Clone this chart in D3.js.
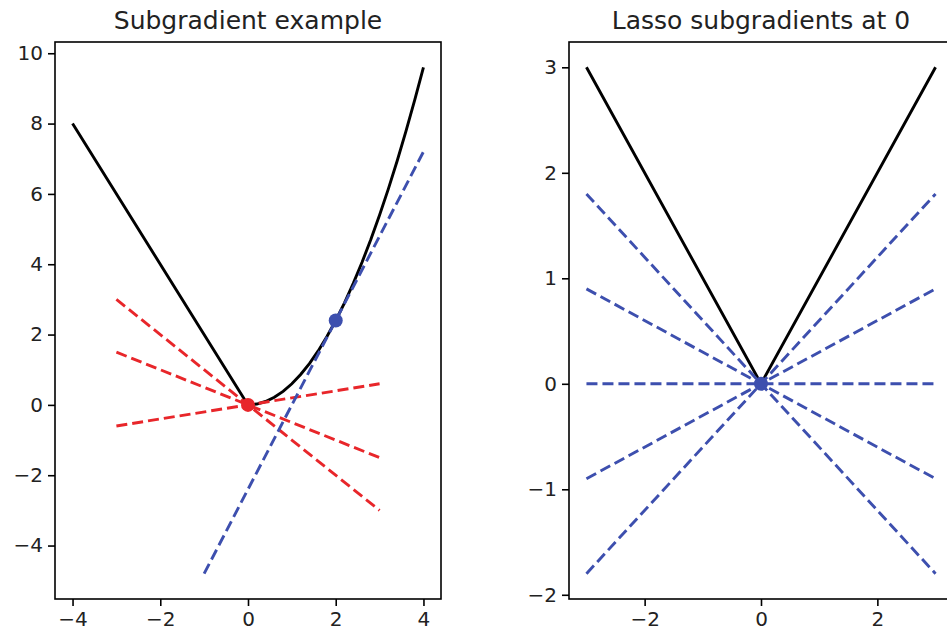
<!DOCTYPE html>
<html>
<head>
<meta charset="utf-8">
<script src="https://cdn.jsdelivr.net/npm/d3@7"></script>
<style>
  html, body { margin: 0; padding: 0; background: #fff; overflow: hidden; }
  svg { display: block; }
  text { font-family: "DejaVu Sans", sans-serif; fill: #222; }
</style>
</head>
<body>
<svg id="chart" width="947" height="633"></svg>
<script>
// ---- Left panel: piecewise function f(x) = -2x (x<0), 0.6x^2 (x>=0)
const curveX = [-4, 0, 0.2, 0.4, 0.6, 0.8, 1.0, 1.2, 1.4, 1.6, 1.8, 2.0,
                2.2, 2.4, 2.6, 2.8, 3.0, 3.2, 3.4, 3.6, 3.8, 4.0];
const curveY = [8, 0, 0.024, 0.096, 0.216, 0.384, 0.6, 0.864, 1.176, 1.536, 1.944, 2.4,
                2.904, 3.456, 4.056, 4.704, 5.4, 6.144, 6.936, 7.776, 8.664, 9.6];

// subgradient lines through the kink at 0 (slopes -1, -0.5, 0.2)
const subgradX = [-3, 3];
const subgradY = [[3, -3], [1.5, -1.5], [-0.6, 0.6]];

// tangent line at x = 2 (slope 2.4)
const tangentX = [-1, 4];
const tangentY = [-4.8, 7.2];

const kinkPoint = [0, 0];
const tangentPoint = [2, 2.4];

const leftXTicks = [-4, -2, 0, 2, 4];
const leftYTicks = [-4, -2, 0, 2, 4, 6, 8, 10];

// ---- Right panel: |x| with lasso subgradients at 0
const absX = [-3, 0, 3];
const absY = [3, 0, 3];
const lassoX = [-3, 3];
const lassoY = [[1.8, -1.8], [0.9, -0.9], [0, 0], [-0.9, 0.9], [-1.8, 1.8]];
const lassoPoint = [0, 0];

const rightXTicks = [-2, 0, 2];
const rightYTicks = [-2, -1, 0, 1, 2, 3];

const titles = ["Subgradient example", "Lasso subgradients at 0"];

const RED = "#e8262a";
const BLUE = "#3d4fae";
const LW = 2.9;
const DASH = "11,5";

const svg = d3.select("#chart");
const fmt = v => (v < 0 ? "\u2212" + Math.abs(v) : String(v));

function panel(cfg) {
  const g = svg.append("g");
  const x = d3.scaleLinear().domain(cfg.xDomain).range([cfg.left, cfg.right]);
  const y = d3.scaleLinear().domain(cfg.yDomain).range([cfg.bottom, cfg.top]);
  const line = d3.line().x(d => x(d[0])).y(d => y(d[1]));

  // clip to the axes area
  const id = "clip" + cfg.left;
  svg.append("clipPath").attr("id", id).append("rect")
    .attr("x", cfg.left).attr("y", cfg.top)
    .attr("width", cfg.right - cfg.left).attr("height", cfg.bottom - cfg.top);
  const plot = g.append("g").attr("clip-path", `url(#${id})`);

  // axes
  const xAxis = d3.axisBottom(x).tickValues(cfg.xTicks).tickFormat(fmt)
    .tickSizeInner(7).tickSizeOuter(0).tickPadding(6);
  const yAxis = d3.axisLeft(y).tickValues(cfg.yTicks).tickFormat(fmt)
    .tickSizeInner(7).tickSizeOuter(0).tickPadding(5);
  const gx = g.append("g").attr("transform", `translate(0,${cfg.bottom})`).call(xAxis);
  const gy = g.append("g").attr("transform", `translate(${cfg.left},0)`).call(yAxis);
  [gx, gy].forEach(a => {
    a.select(".domain").remove();
    a.selectAll(".tick line").attr("stroke", "#000").attr("stroke-width", 1.6);
    a.selectAll(".tick text").style("font-size", "20px").attr("fill", "#222");
  });

  // frame
  g.append("rect")
    .attr("x", cfg.left).attr("y", cfg.top)
    .attr("width", cfg.right - cfg.left).attr("height", cfg.bottom - cfg.top)
    .attr("fill", "none").attr("stroke", "#000").attr("stroke-width", 1.6);

  // title
  g.append("text")
    .attr("x", (cfg.left + cfg.right) / 2).attr("y", cfg.top - 13)
    .attr("text-anchor", "middle").style("font-size", "25px")
    .text(cfg.title);

  return { plot, x, y, line };
}

// ---------- left panel
const L = panel({
  left: 55, right: 441, top: 42, bottom: 599,
  xDomain: [-4.4, 4.4], yDomain: [-5.52, 10.32],
  xTicks: leftXTicks, yTicks: leftYTicks, title: titles[0]
});

L.plot.append("path")
  .datum(curveX.map((v, i) => [v, curveY[i]]))
  .attr("d", L.line).attr("fill", "none")
  .attr("stroke", "#000").attr("stroke-width", LW);

L.plot.selectAll(".sub").data(subgradY).join("path")
  .attr("class", "sub")
  .attr("d", ys => L.line(subgradX.map((v, i) => [v, ys[i]])))
  .attr("fill", "none").attr("stroke", RED)
  .attr("stroke-width", LW).attr("stroke-dasharray", DASH);

L.plot.append("path")
  .datum(tangentX.map((v, i) => [v, tangentY[i]]))
  .attr("d", L.line).attr("fill", "none")
  .attr("stroke", BLUE).attr("stroke-width", LW).attr("stroke-dasharray", DASH);

L.plot.append("circle")
  .attr("cx", L.x(kinkPoint[0])).attr("cy", L.y(kinkPoint[1]))
  .attr("r", 7).attr("fill", RED);
L.plot.append("circle")
  .attr("cx", L.x(tangentPoint[0])).attr("cy", L.y(tangentPoint[1]))
  .attr("r", 7).attr("fill", BLUE);

// ---------- right panel
const R = panel({
  left: 569, right: 953, top: 42, bottom: 599,
  xDomain: [-3.3, 3.3], yDomain: [-2.04, 3.24],
  xTicks: rightXTicks, yTicks: rightYTicks, title: titles[1]
});

R.plot.append("path")
  .datum(absX.map((v, i) => [v, absY[i]]))
  .attr("d", R.line).attr("fill", "none")
  .attr("stroke", "#000").attr("stroke-width", LW);

R.plot.selectAll(".lasso").data(lassoY).join("path")
  .attr("class", "lasso")
  .attr("d", ys => R.line(lassoX.map((v, i) => [v, ys[i]])))
  .attr("fill", "none").attr("stroke", BLUE)
  .attr("stroke-width", LW).attr("stroke-dasharray", DASH);

R.plot.append("circle")
  .attr("cx", R.x(lassoPoint[0])).attr("cy", R.y(lassoPoint[1]))
  .attr("r", 7).attr("fill", BLUE);
</script>
</body>
</html>
